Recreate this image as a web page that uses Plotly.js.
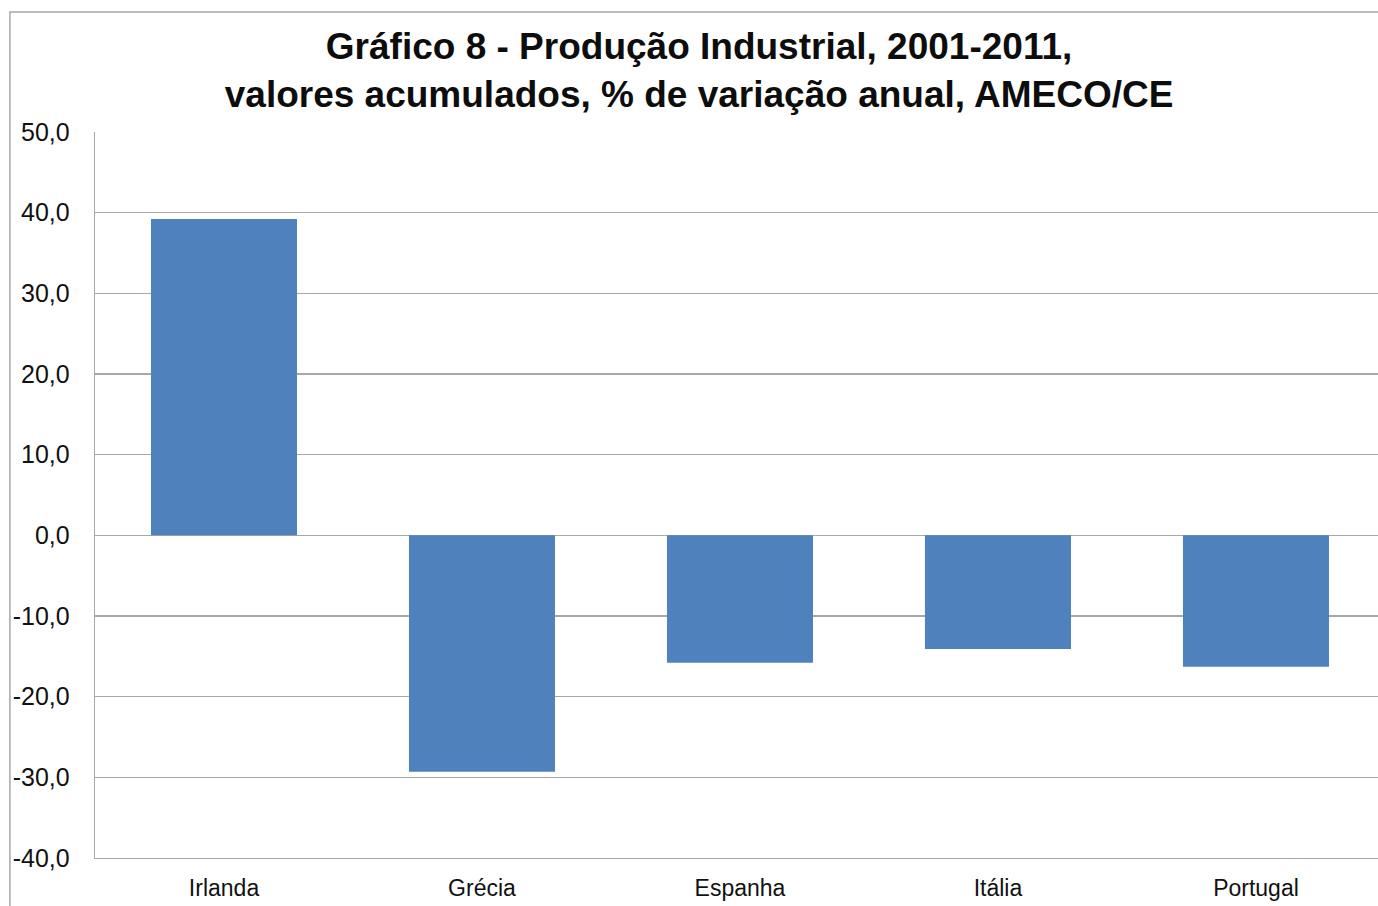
<!DOCTYPE html>
<html>
<head>
<meta charset="utf-8">
<script src="https://cdn.plot.ly/plotly-3.0.1.min.js"></script>
<style>
html,body{margin:0;padding:0;background:#fff;overflow:hidden;}
#chart{width:1378px;height:906px;}
</style>
</head>
<body>
<div id="chart"></div>
<script>
const countries = ["Irlanda", "Grécia", "Espanha", "Itália", "Portugal"];
const values = [39.2, -29.3, -15.8, -14.1, -16.3];
const yTicks = [-40, -30, -20, -10, 0, 10, 20, 30, 40, 50];
const yTickLabels = ["-40,0", "-30,0", "-20,0", "-10,0", "0,0", "10,0", "20,0", "30,0", "40,0", "50,0"];
const titleLines = ["Gráfico 8 - Produção Industrial, 2001-2011,", "valores acumulados, % de variação anual, AMECO/CE"];

const FONT = '"Liberation Sans", Arial, sans-serif';

const trace = {
  type: 'bar',
  x: countries,
  y: values,
  marker: {color: '#4f81bd', line: {width: 0}},
  hoverinfo: 'x+y'
};

const layout = {
  width: 1378,
  height: 906,
  margin: {l: 95, r: 0, t: 132, b: 48, pad: 0},
  paper_bgcolor: '#ffffff',
  plot_bgcolor: '#ffffff',
  showlegend: false,
  bargap: 0.434,
  font: {family: FONT, color: '#111111'},
  title: {
    text: titleLines.join('<br>'),
    font: {family: FONT, size: 37, color: '#0d0d0d', weight: 'bold'},
    xref: 'container', x: 0.5073, xanchor: 'center',
    yref: 'container', y: 0.9345, yanchor: 'middle'
  },
  xaxis: {
    type: 'category',
    range: [-0.5, 4.473],
    showgrid: false,
    showline: true,
    linecolor: '#a8a8a8',
    linewidth: 1.3,
    zeroline: false,
    ticks: '',
    ticklabelstandoff: 9,
    tickfont: {family: FONT, size: 23, color: '#111111'},
    fixedrange: true
  },
  yaxis: {
    range: [-40, 50],
    tickvals: yTicks,
    ticktext: yTickLabels,
    showgrid: true,
    gridcolor: '#a8a8a8',
    gridwidth: 1.3,
    zeroline: false,
    showline: true,
    linecolor: '#a8a8a8',
    linewidth: 1.3,
    ticks: '',
    ticklabelstandoff: 19,
    tickfont: {family: FONT, size: 25, color: '#111111'},
    fixedrange: true
  },
  shapes: [
    {type: 'rect', xref: 'paper', yref: 'paper',
     x0: -0.0663, x1: 1.2, y0: -0.3, y1: 1.1653,
     line: {color: '#a8a8a8', width: 1.5}, fillcolor: 'rgba(0,0,0,0)', layer: 'below'}
  ]
};

Plotly.newPlot('chart', [trace], layout, {displayModeBar: false, staticPlot: true});
</script>
</body>
</html>
